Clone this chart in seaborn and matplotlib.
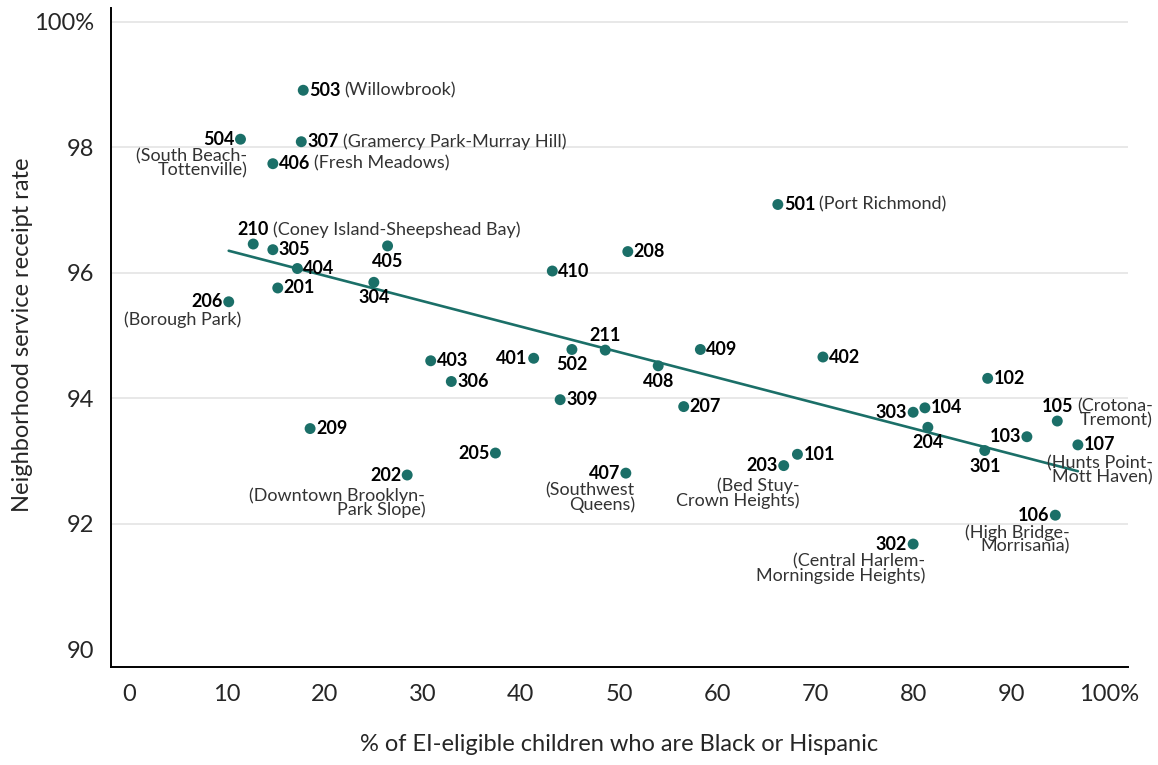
import numpy as np
import pandas as pd
import matplotlib.pyplot as plt
import seaborn as sns

# community districts, share Black/Hispanic (%), service receipt rate (%)
districts = ["503", "504", "307", "406", "501", "210", "305", "405", "208", "404",
             "410", "304", "201", "206", "211", "502", "409", "402", "401", "403",
             "408", "102", "306", "309", "303", "104", "105", "204", "103", "107",
             "207", "301", "101", "203", "209", "205", "202", "407", "106", "302"]
pct_black_hisp = [17.8, 11.4, 17.6, 14.7, 66.2, 12.7, 14.7, 26.4, 50.9, 17.2,
                  43.2, 25.0, 15.2, 10.2, 48.6, 45.2, 58.3, 70.8, 41.3, 30.8,
                  54.0, 87.6, 32.9, 44.0, 80.0, 81.2, 94.7, 81.5, 91.6, 96.8,
                  56.6, 87.3, 68.2, 66.8, 18.5, 37.4, 28.4, 50.7, 94.5, 80.0]
receipt_rate = [98.91, 98.13, 98.09, 97.74, 97.09, 96.46, 96.37, 96.43, 96.34, 96.07,
                96.03, 95.85, 95.76, 95.54, 94.77, 94.78, 94.78, 94.66, 94.64, 94.60,
                94.52, 94.32, 94.27, 93.98, 93.78, 93.85, 93.64, 93.54, 93.39, 93.26,
                93.87, 93.17, 93.11, 92.93, 93.52, 93.13, 92.78, 92.81, 92.14, 91.68]

names = {
    "503": "(Willowbrook)",
    "504": "(South Beach-\nTottenville)",
    "307": "(Gramercy Park-Murray Hill)",
    "406": "(Fresh Meadows)",
    "501": "(Port Richmond)",
    "210": "(Coney Island-Sheepshead Bay)",
    "206": "(Borough Park)",
    "105": "(Crotona-\nTremont)",
    "107": "(Hunts Point-\nMott Haven)",
    "203": "(Bed Stuy-\nCrown Heights)",
    "202": "(Downtown Brooklyn-\nPark Slope)",
    "407": "(Southwest\nQueens)",
    "106": "(High Bridge-\nMorrisania)",
    "302": "(Central Harlem-\nMorningside Heights)",
}

x_ticks = [0, 10, 20, 30, 40, 50, 60, 70, 80, 90, 100]
x_ticklabels = ["0", "10", "20", "30", "40", "50", "60", "70", "80", "90", "100%"]
y_ticks = [90, 92, 94, 96, 98, 100]
y_ticklabels = ["90", "92", "94", "96", "98", "100%"]

# label placement (style only): number side, name placement
num_side = {"504": "l", "206": "l", "202": "l", "407": "l", "203": "l", "302": "l",
            "106": "l", "401": "l", "303": "l", "103": "l", "205": "l",
            "210": "a", "211": "a", "105": "a",
            "405": "b", "304": "b", "502": "b", "408": "b", "204": "b", "301": "b"}
name_under = {"504": (7, -9), "206": (13, -10), "202": (18, -12), "407": (9, -9),
              "203": (16, -12), "302": (12, -9), "106": (14, -9), "107": (75, -10)}

df = pd.DataFrame({"district": districts, "pct": pct_black_hisp, "rate": receipt_rate})

teal = "#1b6f68"
sns.set_style("white")
plt.rcParams["font.family"] = ["Lato", "DejaVu Sans"]

fig, ax = plt.subplots(figsize=(11.58, 7.65), dpi=100)
fig.subplots_adjust(left=0.0959, right=0.974, bottom=0.128, top=0.9895)

sns.regplot(data=df, x="pct", y="rate", ci=None, scatter=False, ax=ax,
            line_kws={"color": teal, "lw": 1.9})
sns.scatterplot(data=df, x="pct", y="rate", color=teal, s=62, edgecolor="none",
                ax=ax, zorder=3)

for d, x, y in zip(df["district"], df["pct"], df["rate"]):
    side = num_side.get(d, "r")
    if side == "r":
        off, ha, va = (6, 0), "left", "center"
    elif side == "l":
        off, ha, va = (-6, 0), "right", "center"
    elif side == "a":
        off, ha, va = (0, 6), "center", "bottom"
    else:
        off, ha, va = (0, -7), "center", "top"
    t = ax.annotate(d, (x, y), xytext=off, textcoords="offset pixels", ha=ha, va=va,
                    fontsize=13, fontweight="bold", color="black")
    if d not in names:
        continue
    if d in name_under:
        ax.annotate(names[d], (x, y), xytext=name_under[d], textcoords="offset pixels",
                    ha="right", va="top", multialignment="right", linespacing=0.85,
                    fontsize=13, color="#333333")
    elif "\n" in names[d]:
        ax.annotate(names[d], xy=(1, 1), xycoords=t, xytext=(4, 0),
                    textcoords="offset pixels", ha="left", va="top",
                    multialignment="right", linespacing=0.85, fontsize=13, color="#333333")
    else:
        ax.annotate(names[d], xy=(1, 0.5), xycoords=t, xytext=(4, 0),
                    textcoords="offset pixels", ha="left", va="center",
                    fontsize=13, color="#333333")

ax.set_xlim(-1.8, 101.9)
ax.set_ylim(89.72, 100.22)
ax.set_xticks(x_ticks)
ax.set_xticklabels(x_ticklabels)
ax.set_yticks(y_ticks)
ax.set_yticklabels(y_ticklabels)
ax.tick_params(axis="both", labelsize=17, length=7, width=1.3, direction="out",
               color="black", pad=5)
ax.yaxis.grid(True, color="#e6e6e6", lw=1.3)
ax.get_ygridlines()[0].set_visible(False)
ax.set_axisbelow(True)

for s in ["top", "right"]:
    ax.spines[s].set_visible(False)
for s in ["left", "bottom"]:
    ax.spines[s].set_color("black")
    ax.spines[s].set_linewidth(1.4)

ax.set_xlabel("% of EI-eligible children who are Black or Hispanic", fontsize=17)
ax.set_ylabel("Neighborhood service receipt rate", fontsize=17)
ax.xaxis.set_label_coords(0.5, -0.101)
ax.yaxis.set_label_coords(-0.077, 0.504)

fig.savefig("out.png", dpi=100)
